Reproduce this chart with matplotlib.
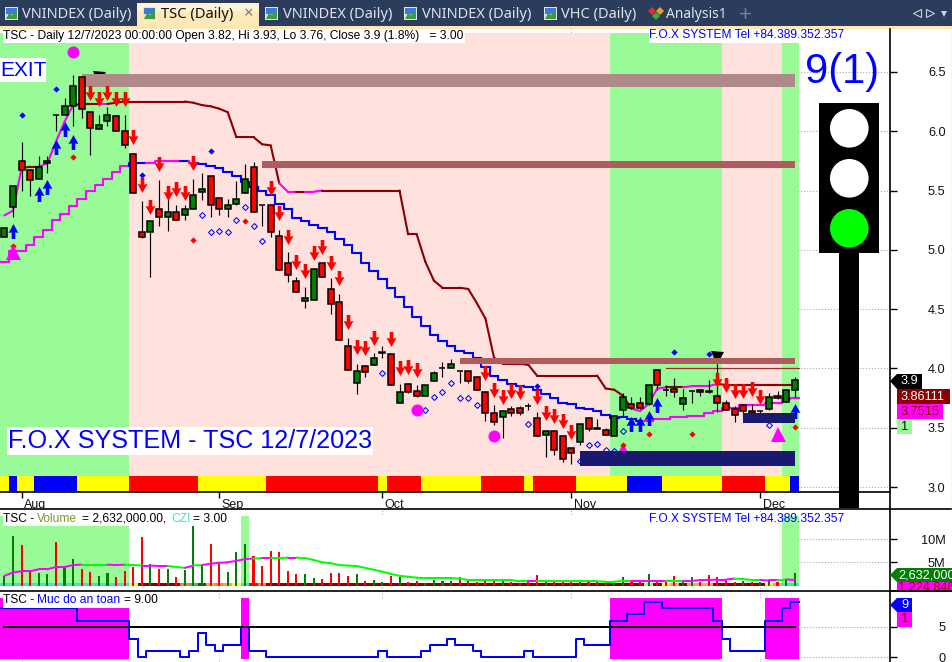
import matplotlib
matplotlib.use('Agg')
import matplotlib.pyplot as plt
import numpy as np
from matplotlib.collections import LineCollection
from matplotlib.patches import Circle, Polygon, Rectangle
from matplotlib.path import Path as MPath
from matplotlib.transforms import ScaledTranslation

plt.rcParams['font.family'] = ['Liberation Sans', 'DejaVu Sans']

W, H = 952, 662
BAR0_PX = 4.4
BAR_PX = 8.59
RIGHT_PX = 890

opens = [5.11, 5.36, 5.75, 5.67, 5.60, 5.73, 6.14, 6.14, 6.21, 6.46,
         6.16, 6.02, 6.09, 6.13, 6.00, 5.81, 5.15, 5.15, 5.34, 5.28,
         5.32, 5.29, 5.34, 5.49, 5.62, 5.44, 5.34, 5.39, 5.48, 5.70,
         5.38, 5.38, 5.12, 4.89, 4.74, 4.57, 4.58, 4.89, 4.67, 4.56,
         4.19, 3.88, 4.02, 4.03, 4.13, 4.12, 3.71, 3.87, 3.81, 3.77,
         3.89, 4.00, 4.00, 3.98, 3.98, 3.93, 3.80, 3.62, 3.59, 3.66,
         3.67, 3.68, 3.58, 3.44, 3.47, 3.43, 3.33, 3.38, 3.58, 3.50,
         3.48, 3.43, 3.65, 3.70, 3.71, 3.70, 3.99, 3.82, 3.83, 3.70,
         3.81, 3.82, 3.81, 3.77, 3.71, 3.66, 3.69, 3.64, 3.64, 3.66,
         3.77, 3.72, 3.82]
highs = [5.18, 5.54, 5.91, 5.67, 5.79, 5.79, 6.14, 6.28, 6.47, 6.46,
         6.16, 6.14, 6.20, 6.14, 6.14, 5.82, 5.41, 5.24, 5.59, 5.45,
         5.38, 5.38, 5.60, 5.65, 5.62, 5.44, 5.43, 5.58, 5.72, 5.74,
         5.38, 5.38, 5.17, 4.98, 4.77, 4.69, 4.84, 4.89, 4.76, 4.63,
         4.26, 4.04, 4.03, 4.13, 4.19, 4.12, 3.87, 3.88, 3.86, 3.86,
         3.98, 4.05, 4.08, 3.98, 3.98, 3.93, 3.81, 3.69, 3.64, 3.68,
         3.68, 3.71, 3.63, 3.47, 3.47, 3.43, 3.33, 3.53, 3.58, 3.57,
         3.50, 3.61, 3.79, 3.76, 3.76, 3.86, 3.99, 3.86, 3.92, 3.83,
         3.81, 3.83, 3.90, 4.04, 3.73, 3.68, 3.69, 3.70, 3.64, 3.79,
         3.81, 3.82, 3.93]
lows = [5.11, 5.28, 5.50, 5.45, 5.60, 5.65, 6.00, 6.14, 6.04, 6.11,
        5.80, 6.02, 6.04, 6.00, 5.86, 5.48, 5.10, 4.77, 5.20, 5.16,
        5.25, 5.25, 5.34, 5.42, 5.28, 5.29, 5.28, 5.38, 5.48, 5.32,
        5.20, 5.11, 4.83, 4.73, 4.64, 4.51, 4.58, 4.77, 4.46, 4.24,
        3.99, 3.78, 3.93, 4.03, 4.09, 3.86, 3.71, 3.79, 3.76, 3.77,
        3.89, 3.93, 4.00, 3.88, 3.88, 3.82, 3.56, 3.52, 3.41, 3.60,
        3.61, 3.65, 3.43, 3.25, 3.27, 3.21, 3.19, 3.35, 3.47, 3.49,
        3.44, 3.43, 3.60, 3.66, 3.66, 3.69, 3.82, 3.77, 3.76, 3.65,
        3.71, 3.77, 3.79, 3.63, 3.65, 3.55, 3.60, 3.62, 3.60, 3.65,
        3.74, 3.72, 3.76]
closes = [5.18, 5.54, 5.67, 5.59, 5.70, 5.75, 6.14, 6.21, 6.38, 6.19,
          6.03, 6.05, 6.14, 6.00, 5.88, 5.48, 5.11, 5.24, 5.28, 5.32,
          5.25, 5.34, 5.46, 5.51, 5.38, 5.34, 5.38, 5.43, 5.60, 5.32,
          5.38, 5.15, 4.83, 4.79, 4.64, 4.59, 4.84, 4.77, 4.54, 4.24,
          3.99, 3.98, 3.97, 4.09, 4.14, 3.86, 3.80, 3.80, 3.77, 3.86,
          3.96, 4.00, 4.04, 3.98, 3.89, 3.82, 3.62, 3.55, 3.64, 3.62,
          3.62, 3.68, 3.43, 3.47, 3.31, 3.24, 3.29, 3.53, 3.49, 3.49,
          3.44, 3.60, 3.76, 3.67, 3.67, 3.86, 3.86, 3.82, 3.80, 3.75,
          3.81, 3.80, 3.80, 3.71, 3.65, 3.61, 3.64, 3.62, 3.64, 3.76,
          3.75, 3.82, 3.90]

upper_line = [5.29, 5.33, 5.69, 5.70, 5.70, 5.73, 5.91, 6.08, 6.22, 6.23,
              6.23, 6.23, 6.23, 6.24, 6.25, 6.25, 6.25, 6.25, 6.25, 6.25,
              6.25, 6.25, 6.24, 6.22, 6.21, 6.19, 6.16, 5.95, 5.95, 5.95,
              5.89, 5.88, 5.56, 5.49, 5.49, 5.49, 5.49, 5.50, 5.50, 5.50,
              5.50, 5.50, 5.50, 5.50, 5.50, 5.50, 5.50, 5.13, 5.13, 4.90,
              4.74, 4.68, 4.68, 4.68, 4.67, 4.55, 4.42, 4.09, 4.04, 4.04,
              4.04, 4.03, 3.94, 3.94, 3.94, 3.94, 3.94, 3.94, 3.94, 3.94,
              3.83, 3.82, 3.77, 3.66, 3.64, 3.70, 3.83, 3.84, 3.84, 3.84,
              3.85, 3.85, 3.85, 3.87, 3.86, 3.86, 3.86, 3.86, 3.86, 3.86,
              3.86, 3.86, 3.86]
upper_state = 'MMMDDMMMMDDDM' + 'D' * 20 + 'MMDMM' + 'D' * 36 + 'MMMMDDMMMM' + 'D' * 9

lower_line = [4.90, 4.99, 4.99, 5.04, 5.11, 5.17, 5.25, 5.30, 5.37, 5.43,
              5.50, 5.55, 5.60, 5.66, 5.71, 5.73, 5.73, 5.73, 5.75, 5.75,
              5.75, 5.75, 5.73, 5.72, 5.71, 5.69, 5.66, 5.62, 5.57, 5.53,
              5.50, 5.46, 5.39, 5.34, 5.27, 5.24, 5.21, 5.18, 5.15, 5.09,
              5.04, 4.97, 4.89, 4.82, 4.75, 4.68, 4.60, 4.52, 4.43, 4.36,
              4.28, 4.23, 4.19, 4.15, 4.13, 4.09, 4.01, 3.94, 3.90, 3.87,
              3.85, 3.84, 3.82, 3.78, 3.75, 3.71, 3.70, 3.67, 3.66, 3.64,
              3.61, 3.58, 3.59, 3.57, 3.56, 3.56, 3.57, 3.57, 3.59, 3.59,
              3.60, 3.60, 3.62, 3.64, 3.67, 3.67, 3.69, 3.69, 3.69, 3.71,
              3.71, 3.74, 3.75]
lower_state = 'M' * 15 + 'BB' + 'MMMM' + 'B' + 'M' + 'B' * 52 + 'M' * 18

down_arrow_bars = [10, 11, 12, 13, 14, 15, 16, 17, 18, 19, 20, 21, 22, 31, 32, 33, 34, 35, 36, 37,
                   38, 39, 40, 41, 42, 43, 45, 46, 47, 48, 56, 57, 58, 59, 60, 62, 63, 64, 65, 66,
                   83, 84, 85, 86, 87, 88]
down_arrow_prices = [6.32, 6.27, 6.32, 6.27, 6.27, 5.95, 5.55, 5.36, 5.72, 5.48, 5.51, 5.48, 5.73,
                     5.52, 5.31, 5.11, 4.90, 4.82, 4.97, 5.02, 4.89, 4.76, 4.39, 4.18, 4.17, 4.26,
                     4.25, 4.00, 4.01, 3.99, 3.96, 3.82, 3.76, 3.81, 3.80, 3.76, 3.62, 3.60, 3.56,
                     3.46, 3.90, 3.86, 3.81, 3.81, 3.83, 3.76]
up_arrow_bars = [1, 4, 5, 6, 7, 8, 73, 74, 75, 76, 92]
up_arrow_prices = [5.16, 5.47, 5.53, 5.87, 6.02, 5.91, 3.53, 3.53, 3.58, 3.69, 3.64]

blue_dot_bars = [2, 6, 16, 24, 62, 78, 82]
blue_dot_prices = [6.14, 6.36, 5.63, 5.83, 3.85, 4.14, 4.12]
red_dot_bars = [1, 8, 22, 28, 72, 75, 80, 92]
red_dot_prices = [5.03, 5.78, 5.08, 5.24, 3.35, 3.45, 3.45, 3.51]
hollow_bars = [23, 24, 25, 26, 27, 28, 29, 30, 44, 49, 50, 51, 52, 53, 54, 55, 61, 67, 68, 69, 70, 71, 72, 89]
hollow_prices = [5.29, 5.15, 5.16, 5.15, 5.25, 5.36, 5.20, 5.07, 3.96, 3.65, 3.76, 3.80, 3.88, 3.75,
                 3.75, 3.69, 3.53, 3.22, 3.35, 3.36, 3.31, 3.30, 3.47, 3.52]
circle_bars = [8, 48, 57]
circle_prices = [6.67, 3.65, 3.43]
triangle_bars = [1, 72, 90]
triangle_prices = [4.98, 3.31, 3.45]
peak_bars = [11, 83]
peak_prices = [6.45, 4.09]

zone_starts = [9, 30, 53]
zone_tops = [6.48, 5.75, 4.09]
zone_bottoms = [6.37, 5.69, 4.04]
zone_colors = ['#B08A88', '#B05C5C', '#B05C5C']
base_starts = [67, 86]
base_tops = [3.30, 3.62]
base_bottoms = [3.18, 3.54]

month_bars = [2, 25, 44, 66, 88]
month_labels = ['Aug', 'Sep', 'Oct', 'Nov', 'Dec']

# G green, P pink
signal_state = 'G' * 15 + 'P' * 56 + 'G' * 13 + 'P' * 7 + 'G' * 2
# Y yellow, B blue, R red
strip_state = ('YBYYBBBBBYYYYYY' + 'R' * 8 + 'Y' * 8 + 'R' * 13 + 'Y' + 'RRRR' + 'Y' * 7 + 'RRRRR' + 'Y'
               + 'RRRRR' + 'Y' * 6 + 'BBBB' + 'Y' * 7 + 'RRRRR' + 'YYY' + 'B')

volumes = [2.1, 10.6, 8.7, 3.2, 2.8, 2.5, 9.4, 4.0, 5.7, 3.6,
           2.9, 2.1, 2.7, 1.8, 3.1, 4.0, 10.4, 4.6, 3.6, 3.6,
           1.8, 3.3, 12.8, 4.4, 8.9, 4.8, 2.9, 7.2, 8.9, 6.4,
           4.2, 7.4, 7.2, 3.1, 2.5, 2.5, 1.6, 1.4, 2.7, 2.7,
           2.1, 2.5, 1.0, 1.2, 0.8, 2.1, 1.8, 0.8, 1.0, 0.6,
           1.3, 1.0, 1.0, 1.8, 1.0, 0.8, 1.4, 1.0, 1.2, 0.8,
           0.6, 0.8, 2.3, 1.0, 0.8, 0.8, 1.1, 1.1, 0.8, 0.8,
           0.8, 1.0, 1.8, 1.2, 1.2, 2.5, 1.0, 1.2, 2.1, 1.0,
           1.8, 0.8, 2.3, 1.8, 1.0, 0.8, 1.0, 0.8, 0.8, 1.2,
           0.8, 1.2, 2.63]
volume_state = ('GGRRGGRGGR' 'RGGRRRRGRG' 'RGGGRRGGGR' 'RRRRRGGRRR' 'RGRGGRGRRG'
                'GGGRRRRRGR' 'RRRGRRRGRR' 'RGGRRGRRRG' 'GRRRRRGRGG' 'RGG')
volume_ma = [2.1, 2.8, 3.1, 3.1, 3.5, 3.5, 4.0, 4.0, 4.4, 4.5,
             4.5, 4.5, 4.5, 4.4, 4.5, 4.4, 4.3, 4.3, 4.2, 4.2,
             4.0, 3.8, 4.3, 4.4, 4.7, 4.9, 5.0, 5.3, 5.7, 5.8,
             5.9, 5.9, 5.9, 6.0, 6.0, 5.9, 5.5, 5.0, 4.8, 4.4,
             4.3, 4.2, 3.8, 3.4, 3.0, 2.5, 2.1, 1.9, 1.7, 1.6,
             1.6, 1.6, 1.6, 1.5, 1.2, 1.2, 1.2, 1.2, 1.2, 1.2,
             0.9, 0.9, 0.9, 0.9, 0.9, 0.9, 0.9, 0.9, 0.9, 0.9,
             0.85, 0.85, 1.0, 1.0, 1.0, 1.0, 1.0, 1.0, 1.0, 1.0,
             1.0, 1.2, 1.2, 1.3, 1.3, 1.5, 1.4, 1.2, 1.2, 1.1,
             1.1, 1.3, 1.22]
volume_ma_state = ('M' * 10 + 'LLL' + 'MM' + 'LL' + 'MMM' + 'LL' + 'M' + 'L' + 'M' * 6 + 'L' + 'M' + 'LL'
                   + 'M' + 'L' * 27 + 'M' + 'L' * 11 + 'M' * 4 + 'LL' + 'M' * 6 + 'LLL' + 'MM' + 'L' + 'MM')
# t turquoise, y yellow, d dark red, o orange, l lime, g dark green, s sandy, r red, p pale green
czi_state = ('t' * 15 + 'y' + 'ddddd' + 'olgsosytro' + 'd' * 44 + 'pdysdsss' + 'd' * 6 + 'ystt')

safety = [8, 8, 8, 8, 8, 8, 8, 8, 8, 6, 6, 6, 6, 6, 6, 3, 0, 1, 1, 1, 1, 0, 1, 4, 2, 1, 2, 2, 5, 1, 1,
          0, 0, 0, 0, 0, 0, 0, 0, 0, 0, 0, 0, 0, 1, 0, 0, 0, 0, 1, 2, 2, 3, 2, 2, 1, 0, 0, 0, 0, 0, 1,
          0, 0, 0, 0, 0, 3, 2, 2, 2, 6, 6, 7, 7, 9, 9, 8, 8, 8, 8, 8, 8, 6, 3, 1, 1, 1, 1, 6, 6, 8, 9]
safety_state = 'M' * 15 + 'W' * 13 + 'M' + 'W' * 42 + 'M' * 13 + 'W' * 5 + 'M' * 4
safety_level = 5

price_ticks = [3.0, 3.5, 4.0, 4.5, 5.0, 5.5, 6.0, 6.5]
volume_ticks = [5, 10]
volume_tick_labels = ['5M', '10M']
safety_ticks = [0, 5]

bars = np.arange(len(closes))
GREEN, PINK, MAGENTA, MAROON = '#98FB98', '#FFE2DE', '#FF00FF', '#8B0000'
BLUE, RED, CANDLE_GREEN, NAVY = '#0000FF', '#FF0000', '#008000', '#191970'
STRIP_COLORS = {'Y': '#FFFF00', 'B': BLUE, 'R': RED}
CZI_COLORS = {'t': '#40E0D0', 'y': '#FFFF00', 'd': MAROON, 'o': '#FF7F27', 'l': '#32CD32',
              'g': '#006400', 's': '#F4A460', 'r': RED, 'p': GREEN}
px = 1 / 100 * 72

# marker pointing down, height 2 units so the marker size is the full height
DOWN_ARROW = MPath([(-0.24, 1), (0.24, 1), (0.24, 0.12), (0.66, 0.2), (0, -1), (-0.66, 0.2), (-0.24, 0.12), (-0.24, 1)],
                   closed=True)
UP_ARROW = MPath([(-0.24, -1), (0.24, -1), (0.24, -0.12), (0.66, -0.2), (0, 1), (-0.66, -0.2), (-0.24, -0.12), (-0.24, -1)],
                 closed=True)


def panel(fig, top, bottom, ymin, ymax, ticks, labels):
    ax = fig.add_axes([0, 1 - bottom / H, RIGHT_PX / W, (bottom - top) / H])
    ax.set_xlim((0 - BAR0_PX) / BAR_PX, (RIGHT_PX - BAR0_PX) / BAR_PX)
    ax.set_ylim(ymin, ymax)
    for side in ('top', 'left', 'right', 'bottom'):
        ax.spines[side].set_visible(False)
    ax.yaxis.tick_right()
    ax.set_axisbelow(True)
    ax.set_xticks(month_bars)
    ax.grid(True, color='#AAAAAA', linestyle=':', linewidth=0.8)
    ax.tick_params(axis='x', length=0, labelbottom=False)
    ax.tick_params(axis='y', length=5, width=1, pad=35, labelsize=9.2, labelcolor='#111111')
    ax.set_yticks(ticks)
    ax.set_yticklabels(labels, ha='right')
    return ax


def fill_runs(ax, states, colors, ymin, ymax, zorder=1):
    start = 0
    for i in range(1, len(states) + 1):
        if i == len(states) or states[i] != states[start]:
            ax.bar((start + i - 1) / 2, ymax - ymin, bottom=ymin, width=i - start,
                   color=colors[states[start]], linewidth=0, zorder=zorder)
            start = i


def step_lines(ax, values, states, colors, lw, zorder):
    segs, cols = [], []
    for k, v in enumerate(values):
        prev = values[k - 1] if k else v
        segs.append([(k - 0.5, prev), (k - 0.5, v), (k + 0.5, v)])
        cols.append(colors[states[k]])
    ax.add_collection(LineCollection(segs, colors=cols, linewidths=lw, zorder=zorder, capstyle='projecting'))


def poly_lines(ax, values, states, colors, lw, zorder):
    segs = [[(k - 1, values[k - 1]), (k, values[k])] for k in range(1, len(values))]
    cols = [colors[states[k]] for k in range(1, len(values))]
    ax.add_collection(LineCollection(segs, colors=cols, linewidths=lw, zorder=zorder, capstyle='round'))


fig = plt.figure(figsize=(W / 100, H / 100), dpi=100, facecolor='white')

# main price panel
ax = panel(fig, 28, 492, 3 - 5 / 118.6, 3 + 459 / 118.6, price_ticks, ['%.1f' % v for v in price_ticks])
ax.spines['bottom'].set_visible(True)
ax.spines['bottom'].set_linewidth(1.2)
ax.tick_params(axis='x', length=4, width=1, labelbottom=True, labelsize=9, pad=1, labelcolor='#111111')
ax.set_xticklabels(month_labels, ha='left')
shift = ScaledTranslation(2.5 / 100, 0, fig.dpi_scale_trans)
for lab in ax.get_xticklabels():
    lab.set_transform(lab.get_transform() + shift)

sig_top = 3 + (487 - 33) / 118.6
fill_runs(ax, signal_state, {'G': GREEN, 'P': PINK}, ax.get_ylim()[0], sig_top)
strip_tr = ax.get_xaxis_transform()
start = 0
for i in range(1, len(strip_state) + 1):
    if i == len(strip_state) or strip_state[i] != strip_state[start]:
        ax.bar((start + i - 1) / 2, 15 / 464, bottom=1 / 464, width=i - start,
               color=STRIP_COLORS[strip_state[start]], linewidth=0, transform=strip_tr, zorder=2)
        start = i

ax.plot(peak_bars, peak_prices, 'v', color='black', ms=13 * px, mew=0, zorder=2.5)
ax.plot(triangle_bars[1], triangle_prices[1], '^', color=MAGENTA, ms=15 * px, mew=0, zorder=2.5)
line_colors = {'M': MAGENTA, 'D': MAROON, 'B': BLUE}
step_lines(ax, lower_line, lower_state, line_colors, 2.1 * px, 3)
poly_lines(ax, upper_line, upper_state, line_colors, 2.1 * px, 3)
ax.plot(hollow_bars, hollow_prices, 'D', mfc='none', mec=BLUE, mew=0.75, ms=3.0, zorder=3)

for s, t, b, c in zip(zone_starts, zone_tops, zone_bottoms, zone_colors):
    ax.fill_between([s, bars[-1]], b, t, color=c, linewidth=0, zorder=4)
ax.plot([77, 92.5], [4.0, 4.0], color='#A52A2A', lw=0.9, zorder=4)

# candles
for k in bars:
    up = closes[k] >= opens[k]
    ax.plot([k, k], [lows[k], highs[k]], color='black', lw=0.85, zorder=5, solid_capstyle='butt')
    ax.bar(k, abs(closes[k] - opens[k]), bottom=min(opens[k], closes[k]), width=0.7,
           color=CANDLE_GREEN if up else RED, edgecolor='black', linewidth=1.1, zorder=5.5)

ax.plot(down_arrow_bars, down_arrow_prices, linestyle='none', marker=DOWN_ARROW, color=RED, ms=15 * px, mew=0, zorder=6)
ax.plot(up_arrow_bars, up_arrow_prices, linestyle='none', marker=UP_ARROW, color=BLUE, ms=15 * px, mew=0, zorder=6)
ax.plot(red_dot_bars, red_dot_prices, 'D', color=RED, ms=3.2, mew=0, zorder=6)
ax.plot(blue_dot_bars, blue_dot_prices, 'D', color=BLUE, ms=3.2, mew=0, zorder=6)
ax.plot(circle_bars, circle_prices, 'o', color=MAGENTA, ms=12 * px, mew=0, zorder=6)
ax.plot([triangle_bars[0], triangle_bars[2]], [triangle_prices[0], triangle_prices[2]], '^', color=MAGENTA,
        ms=15 * px, mew=0, zorder=6)
for s, t, b in zip(base_starts, base_tops, base_bottoms):
    ax.fill_between([s, bars[-1]], b, t, color=NAVY, linewidth=0, zorder=7)

# volume panel
vol = panel(fig, 509, 591, (585.6 - 591) / 4.66, (585.6 - 509) / 4.66, volume_ticks, volume_tick_labels)
vol_top = (585.6 - 516) / 4.66
fill_runs(vol, signal_state[:15] + 'W' * 13 + 'G' + 'W' * 62 + 'GG', {'G': GREEN, 'W': 'white'}, 0, vol_top)
fill_runs(vol, czi_state, CZI_COLORS, 0, 0.6, zorder=2)
vol_colors = [CANDLE_GREEN if s == 'G' else RED for s in volume_state]
vol.bar(bars, volumes, width=0.24, color=vol_colors, linewidth=0, zorder=3)
poly_lines(vol, volume_ma, volume_ma_state, {'M': MAGENTA, 'L': '#00FF00'}, 2 * px, 4)

# safety level panel
saf = panel(fig, 591, 662, -0.77, 10.83, safety_ticks, [str(v) for v in safety_ticks])
fill_runs(saf, safety_state, {'M': MAGENTA, 'W': 'white'}, (657.3 - 659) / 6.12, (657.3 - 598) / 6.12)
step_lines(saf, safety, ['B'] * len(safety), {'B': BLUE}, 2 * px, 3)
saf.plot([bars[0], bars[-1]], [safety_level, safety_level], color='black', lw=2 * px, zorder=4)

# pixel overlay for window chrome, labels and the traffic light
ov = fig.add_axes([0, 0, 1, 1], facecolor='none')
ov.set_xlim(0, W)
ov.set_ylim(H, 0)
ov.axis('off')


def box(x0, y0, x1, y1, color, z=2):
    ov.add_patch(Rectangle((x0, y0), x1 - x0, y1 - y0, facecolor=color, edgecolor='none', zorder=z))


def label(x, y, s, size, color='black', ha='left', z=3, **kw):
    return ov.text(x, y, s, fontsize=size, color=color, ha=ha, va='center', zorder=z, **kw)


# tabs
box(0, 0, W, 26, '#2C3C5C', 1)
box(0, 26, W, 28.5, '#FFE7B5', 1)
box(137, 3, 259, 26, '#FFE9B8', 1.2)
box(137, 3, 259, 11, '#FFF4D8', 1.3)


def tab_icon(x):
    box(x, 7, x + 13, 20, '#DCE6F2', 2)
    box(x + 1, 8, x + 12, 14, '#3D7BD0', 2.1)
    ov.add_patch(Polygon([(x + 1, 19), (x + 4, 13), (x + 7, 15), (x + 12, 10), (x + 12, 19)], facecolor='#3E9B3E',
                         edgecolor='none', zorder=2.2))


for xi in (5, 143, 265, 404, 544):
    tab_icon(xi)
TAB_FONT = 'Noto Sans'
for xt, s in ((22, 'VNINDEX (Daily)'), (283, 'VNINDEX (Daily)'), (422, 'VNINDEX (Daily)'), (561, 'VHC (Daily)')):
    label(xt, 15, s, 10.5, '#DDE3EC', family=TAB_FONT)
label(666, 15, 'Analysis1', 10, '#DDE3EC', family=TAB_FONT)
label(161, 15, 'TSC (Daily)', 10.6, '#111111', family=TAB_FONT, fontweight='bold')
label(248.5, 14, '×', 12, '#777777', ha='center', family=TAB_FONT)
ov.plot([652], [11], 'D', color='#D93030', ms=4.5, mew=0, zorder=2)
ov.plot([656], [16], 'D', color='#3DAA3D', ms=4.5, mew=0, zorder=2)
ov.plot([660], [11], 'D', color='#F0A020', ms=4.5, mew=0, zorder=2)
label(744.5, 14, '+', 13, '#7A8496', ha='center', family='DejaVu Sans')
ov.plot([917], [13], marker='<', mfc='none', mec='#C8D0DC', ms=6, mew=0.8, zorder=2)
ov.plot([930], [13], marker='>', mfc='none', mec='#C8D0DC', ms=6, mew=0.8, zorder=2)
ov.plot([944], [14], marker='v', color='#C8D0DC', ms=4.5, mew=0, zorder=2)

# frame lines
ov.plot([RIGHT_PX, RIGHT_PX], [28.5, H], color='black', lw=1.2, zorder=5)
ov.plot([0, W], [509, 509], color='black', lw=1.2, zorder=5)
ov.plot([0, W], [591, 591], color='black', lw=1.2, zorder=5)
ov.plot([951.5, 951.5], [28, 509], color='#E8D8A8', lw=1, zorder=5)

# panel captions
CAP = 8.65
box(3, 29, 465, 43, 'white')
label(3, 35.5, 'TSC - Daily 12/7/2023 00:00:00 Open 3.82, Hi 3.93, Lo 3.76, Close 3.9 (1.8%)   = 3.00', CAP)
box(649, 30, 844, 43, 'white')
label(649, 35.5, 'F.O.X SYSTEM Tel +84.389.352.357', CAP, BLUE)
box(0, 58, 45.5, 82, 'white')
label(0, 70, 'EXIT', 15, BLUE)
box(7, 427, 373, 455, 'white')
label(8, 441, 'F.O.X SYSTEM - TSC 12/7/2023', 18.1, BLUE)
label(805, 72, '9(1)', 30, BLUE)

box(3, 510, 226, 526, 'white')
label(3, 518.5, 'TSC -', CAP)
label(37, 518.5, 'Volume', CAP, '#7A9A2A')
label(82, 518.5, '= 2,632,000.00,', CAP)
label(171, 518.5, 'CZI', CAP, '#40E0D0')
label(193, 518.5, '= 3.00', CAP)
label(649, 518.5, 'F.O.X SYSTEM Tel +84.389.352.357', CAP, BLUE)

box(3, 592, 157, 608, 'white')
label(3, 600, 'TSC -', CAP)
label(37, 600, 'Muc do an toan', CAP, BLUE)
label(124, 600, '= 9.00', CAP)

# traffic light
box(839, 252, 859, 508, 'black', 4)
box(819, 103, 879, 253, 'black', 4)
for cy, c in zip((128.3, 178.3, 228.3), ('white', 'white', '#00FF00')):
    ov.add_patch(Circle((849.3, cy), 19.3, facecolor=c, edgecolor='none', zorder=4.5))

# value tags on the scales
ov.add_patch(Polygon([(890, 381), (897, 374), (922, 374), (922, 389), (897, 389)], facecolor='black',
                     edgecolor='none', zorder=6))
label(901, 381.5, '3.9', 9.2, 'white', z=7)
box(897, 389, 950, 404, MAROON, 6)
label(901, 396.7, '3.86111', 9.2, 'white', z=7)
box(897, 404, 943, 419, MAGENTA, 6)
label(901, 411.7, '3.7515', 9.2, MAROON, z=7)
box(897, 419.3, 912, 434, GREEN, 6)
label(904.5, 427, '1', 9.2, '#111111', ha='center', z=7)

ov.add_patch(Polygon([(890, 575), (897, 568), (W, 568), (W, 582), (897, 582)], facecolor=CANDLE_GREEN,
                     edgecolor='none', zorder=6))
t = label(898, 575.5, '2,632,000', 9.2, 'white', z=7)
t.set_clip_on(True)
box(897, 582, W, 592, MAGENTA, 6)
label(898, 587.5, '1,224,846', 9.2, MAROON, z=6.5)
box(891, 591.6, W, 598, 'white', 6.6)
ov.plot([RIGHT_PX, W], [591, 591], color='black', lw=1.2, zorder=6.7)
ov.add_patch(Polygon([(890, 605), (897, 598), (912, 598), (912, 612), (897, 612)], facecolor=BLUE,
                     edgecolor='none', zorder=7))
label(904.5, 605.5, '9', 9.2, 'white', ha='center', z=8)
box(897, 612, 912, 627, MAGENTA, 7)
label(904.5, 619.5, '1', 9.2, MAROON, ha='center', z=8)

fig.savefig('out.png', dpi=100)
